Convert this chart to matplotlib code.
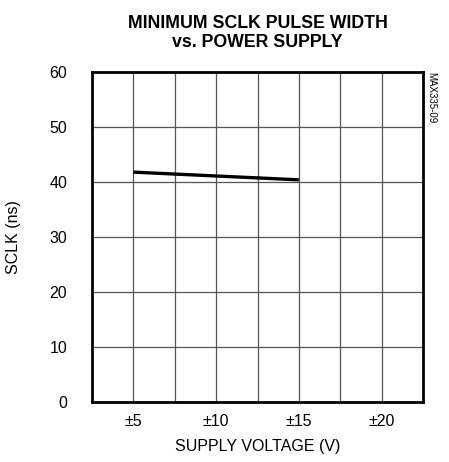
import matplotlib.pyplot as plt

# Daten
supply_v = [5, 15]
sclk_ns = [41.8, 40.4]
x_ticks = [5, 10, 15, 20]
x_labels = ['±5', '±10', '±15', '±20']
y_ticks = [0, 10, 20, 30, 40, 50, 60]

plt.rcParams['font.family'] = ['Liberation Sans', 'DejaVu Sans']

fig = plt.figure(figsize=(4.49, 4.62), dpi=100)
ax = fig.add_axes([0.205, 0.13, 0.737, 0.714])

ax.plot(supply_v, sclk_ns, color='black', lw=2.4, solid_capstyle='butt')

ax.set_xlim(2.5, 22.5)
ax.set_ylim(0, 60)
ax.set_xticks(x_ticks)
ax.set_xticklabels(x_labels, fontsize=11.5)
ax.set_xticks([7.5, 12.5, 17.5], minor=True)
ax.set_yticks(y_ticks)
ax.set_yticklabels([str(v) for v in y_ticks], fontsize=11.5)
ax.tick_params(which='both', length=0)
ax.tick_params(axis='x', pad=9)
ax.tick_params(axis='y', pad=18)
ax.grid(True, which='both', color='#555555', lw=0.9)

for s in ax.spines.values():
    s.set_linewidth(2.0)

ax.set_xlabel('SUPPLY VOLTAGE (V)', fontsize=11.5, labelpad=7)
ax.set_ylabel('SCLK (ns)', fontsize=11.5, labelpad=20)
ax.set_title('MINIMUM SCLK PULSE WIDTH\nvs. POWER SUPPLY', fontsize=12.8,
             fontweight='bold', linespacing=1.15, pad=18)

fig.text(0.961, 0.845, 'MAX335-09', rotation=270, fontsize=7,
         ha='center', va='top')

fig.savefig('out.png', dpi=100)
